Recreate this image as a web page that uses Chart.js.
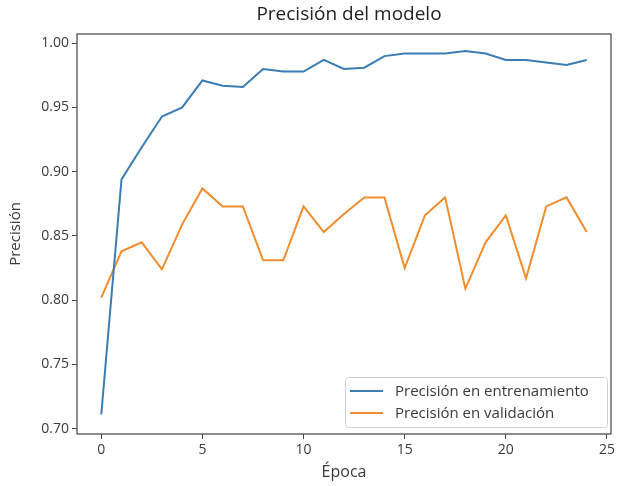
<!DOCTYPE html>
<html>
<head>
<meta charset="utf-8">
<script src="https://cdn.jsdelivr.net/npm/chart.js@4.4.0/dist/chart.umd.min.js"></script>
<style>
  html, body { margin: 0; padding: 0; background: #fff; }
  #wrap { width: 618px; height: 486px; }
</style>
</head>
<body>
<div id="wrap"><canvas id="precChart" width="618" height="486"></canvas></div>
<script>
const epochs = [0, 1, 2, 3, 4, 5, 6, 7, 8, 9, 10, 11, 12, 13, 14, 15, 16, 17, 18, 19, 20, 21, 22, 23, 24];
const trainAcc = [0.711, 0.894, 0.919, 0.943, 0.950, 0.971, 0.967, 0.966, 0.980, 0.978, 0.978, 0.987, 0.980,
                  0.981, 0.990, 0.992, 0.992, 0.992, 0.994, 0.992, 0.987, 0.987, 0.985, 0.983, 0.987];
const valAcc = [0.802, 0.838, 0.845, 0.824, 0.859, 0.887, 0.873, 0.873, 0.831, 0.831, 0.873, 0.853, 0.867,
                0.880, 0.880, 0.825, 0.866, 0.880, 0.809, 0.845, 0.866, 0.817, 0.873, 0.880, 0.853];
const xTicks = [0, 5, 10, 15, 20, 25];
const yTicks = [0.70, 0.75, 0.80, 0.85, 0.90, 0.95, 1.00];
const seriesNames = ["Precisión en entrenamiento", "Precisión en validación"];

const fontFam = "'Open Sans', 'DejaVu Sans', sans-serif";
const textCol = "#3a3a3a";
const blue = "#3b7db3";
const orange = "#f08d2e";

// title, frame and legend box drawn by hand (matplotlib look)
const mplDecor = {
  id: "mplDecor",
  afterDraw(chart) {
    const ctx = chart.ctx;
    const a = chart.chartArea;
    ctx.save();
    ctx.strokeStyle = "#444";
    ctx.lineWidth = 1.2;
    ctx.strokeRect(a.left, a.top, a.right - a.left, a.bottom - a.top);

    ctx.fillStyle = "#222";
    ctx.font = "19px " + fontFam;
    ctx.textAlign = "center";
    ctx.textBaseline = "middle";
    ctx.fillText("Precisión del modelo", (a.left + a.right) / 2 + 5, 15);

    // legend
    const bx = a.right - 266, by = a.bottom - 57, bw = 262, bh = 50;
    ctx.fillStyle = "rgba(255,255,255,0.85)";
    ctx.strokeStyle = "#d0d0d0";
    ctx.lineWidth = 1;
    ctx.beginPath();
    ctx.roundRect(bx + 0.5, by + 0.5, bw, bh, 3);
    ctx.fill();
    ctx.stroke();
    ctx.font = "15px " + fontFam;
    ctx.textAlign = "left";
    chart.data.datasets.forEach((ds, i) => {
      const y = by + 14 + i * 22;
      ctx.strokeStyle = ds.borderColor;
      ctx.lineWidth = 2;
      ctx.beginPath();
      ctx.moveTo(bx + 5, y);
      ctx.lineTo(bx + 38, y);
      ctx.stroke();
      ctx.fillStyle = textCol;
      ctx.fillText(ds.label, bx + 50, y + 1);
    });
    ctx.restore();
  }
};

new Chart(document.getElementById("precChart"), {
  type: "line",
  data: {
    datasets: [
      {
        label: seriesNames[0],
        data: epochs.map((e, i) => ({ x: e, y: trainAcc[i] })),
        borderColor: blue,
        borderWidth: 2,
        pointRadius: 0,
        tension: 0
      },
      {
        label: seriesNames[1],
        data: epochs.map((e, i) => ({ x: e, y: valAcc[i] })),
        borderColor: orange,
        borderWidth: 2,
        pointRadius: 0,
        tension: 0
      }
    ]
  },
  options: {
    responsive: false,
    animation: false,
    layout: { padding: { top: 34, right: 5, left: 0, bottom: 0 } },
    plugins: {
      legend: { display: false },
      tooltip: { enabled: false },
      title: { display: false }
    },
    scales: {
      x: {
        type: "linear",
        min: -1.2,
        max: 25.2,
        afterBuildTicks: s => { s.ticks = xTicks.map(v => ({ value: v })); },
        afterFit: s => { s.height = 52; },
        grid: { drawOnChartArea: false, drawTicks: true, tickLength: 5, color: "#444" },
        border: { display: false },
        ticks: { color: textCol, font: { family: fontFam, size: 14 }, padding: 3, maxRotation: 0 },
        title: { display: true, text: "Época", color: textCol, font: { family: fontFam, size: 16 }, padding: { top: 1 } }
      },
      y: {
        type: "linear",
        min: 0.6958,
        max: 1.0072,
        afterBuildTicks: s => { s.ticks = yTicks.map(v => ({ value: v })); },
        afterFit: s => { s.width = 77; },
        grid: { drawOnChartArea: false, drawTicks: true, tickLength: 5, color: "#444" },
        border: { display: false },
        ticks: { color: textCol, font: { family: fontFam, size: 14 }, padding: 3, callback: v => v.toFixed(2) },
        title: { display: true, text: "Precisión", color: textCol, font: { family: fontFam, size: 15 }, padding: { top: 7, bottom: 0 } }
      }
    }
  },
  plugins: [mplDecor]
});
</script>
</body>
</html>
